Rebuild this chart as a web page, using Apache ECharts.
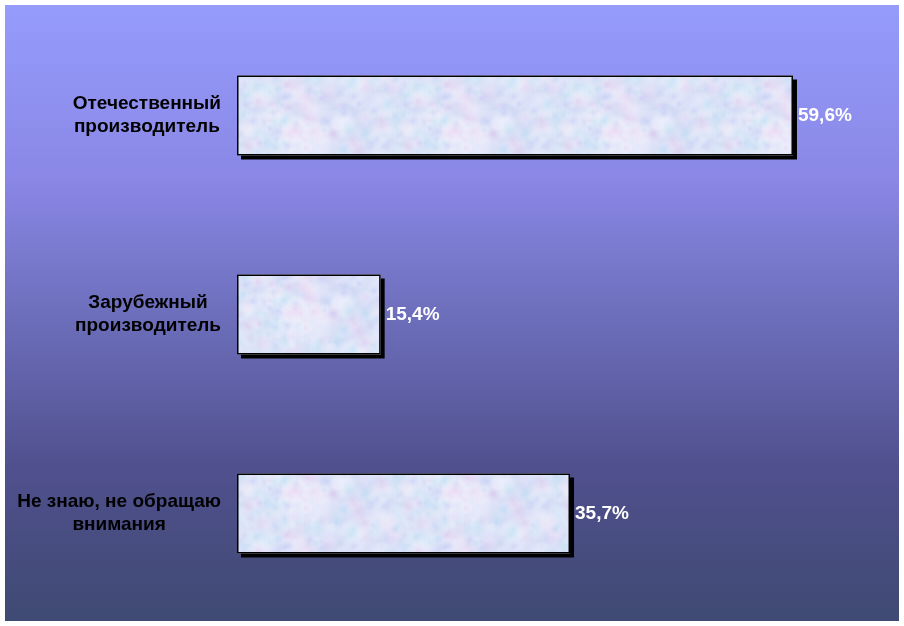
<!DOCTYPE html>
<html>
<head>
<meta charset="utf-8">
<script src="https://cdn.jsdelivr.net/npm/echarts@6/dist/echarts.min.js"></script>
<style>
  html, body { margin: 0; padding: 0; background: #fff; }
  #main { width: 904px; height: 626px; }
</style>
</head>
<body>
<div id="main"></div>
<script>
// data
const categories = ["Отечественный\nпроизводитель", "Зарубежный\nпроизводитель", "Не знаю, не обращаю\nвнимания"];
const values = [59.6, 15.4, 35.7];

// marble-like fill for the bars (decoration only), tiles without seams
function makeTexture() {
  const c = document.createElement("canvas");
  const w = 160, h = 90;
  c.width = w; c.height = h;
  const ctx = c.getContext("2d");
  ctx.fillStyle = "#cdd6f4";
  ctx.fillRect(0, 0, w, h);
  let seed = 11;
  const rnd = () => { seed = (seed * 16807) % 2147483647; return seed / 2147483647; };
  const tints = ["rgba(232,196,236,0.45)", "rgba(178,222,242,0.45)", "rgba(186,198,242,0.45)", "rgba(236,236,252,0.45)"];
  for (let i = 0; i < 220; i++) {
    const x = rnd() * w, y = rnd() * h, r = 5 + rnd() * 12;
    const t = tints[Math.floor(rnd() * tints.length)];
    for (const dx of [-w, 0, w]) {
      for (const dy of [-h, 0, h]) {
        const cx = x + dx, cy = y + dy;
        const g = ctx.createRadialGradient(cx, cy, 0, cx, cy, r);
        g.addColorStop(0, t);
        g.addColorStop(1, "rgba(255,255,255,0)");
        ctx.fillStyle = g;
        ctx.fillRect(cx - r, cy - r, 2 * r, 2 * r);
      }
    }
  }
  return c;
}

const font = "Liberation Sans, Arial, sans-serif";

const chart = echarts.init(document.getElementById("main"));
chart.setOption({
  backgroundColor: "#ffffff",
  animation: false,
  graphic: [{
    type: "rect",
    z: -10,
    shape: { x: 5, y: 5, width: 894, height: 616 },
    style: {
      fill: new echarts.graphic.LinearGradient(0, 0, 0, 1, [
        { offset: 0, color: "#959cfc" },
        { offset: 0.28, color: "#8a87e6" },
        { offset: 0.5, color: "#6d6fbc" },
        { offset: 0.75, color: "#50508e" },
        { offset: 1, color: "#3f4a72" }
      ])
    }
  }],
  grid: { left: 237, top: 16, width: 653, height: 597 },
  xAxis: {
    type: "value", min: 0, max: 70, show: false
  },
  yAxis: {
    type: "category",
    data: categories,
    inverse: true,
    axisLine: { show: false },
    axisTick: { show: false },
    axisLabel: {
      margin: 16,
      align: "right",
      formatter: v => v.split("\n").map(s => "{c|" + s + "}").join("\n"),
      rich: {
        c: {
          align: "center",
          fontFamily: font,
          fontWeight: "bold",
          fontSize: 19,
          lineHeight: 23,
          color: "#000"
        }
      }
    }
  },
  series: [{
    type: "bar",
    data: values,
    barWidth: 80,
    itemStyle: {
      color: { image: makeTexture(), repeat: "repeat" },
      borderWidth: 0,
      shadowColor: "#000",
      shadowOffsetX: 4,
      shadowOffsetY: 4,
      shadowBlur: 0
    },
    label: {
      show: true,
      position: "right",
      distance: 5,
      formatter: p => String(p.value).replace(".", ",") + "%",
      color: "#fff",
      fontFamily: font,
      fontWeight: "bold",
      fontSize: 19
    }
  }, {
    type: "bar",
    data: values,
    barWidth: 80,
    barGap: "-100%",
    silent: true,
    itemStyle: {
      color: "rgba(0,0,0,0)",
      borderColor: "#000",
      borderWidth: 1.5
    }
  }]
});
</script>
</body>
</html>
